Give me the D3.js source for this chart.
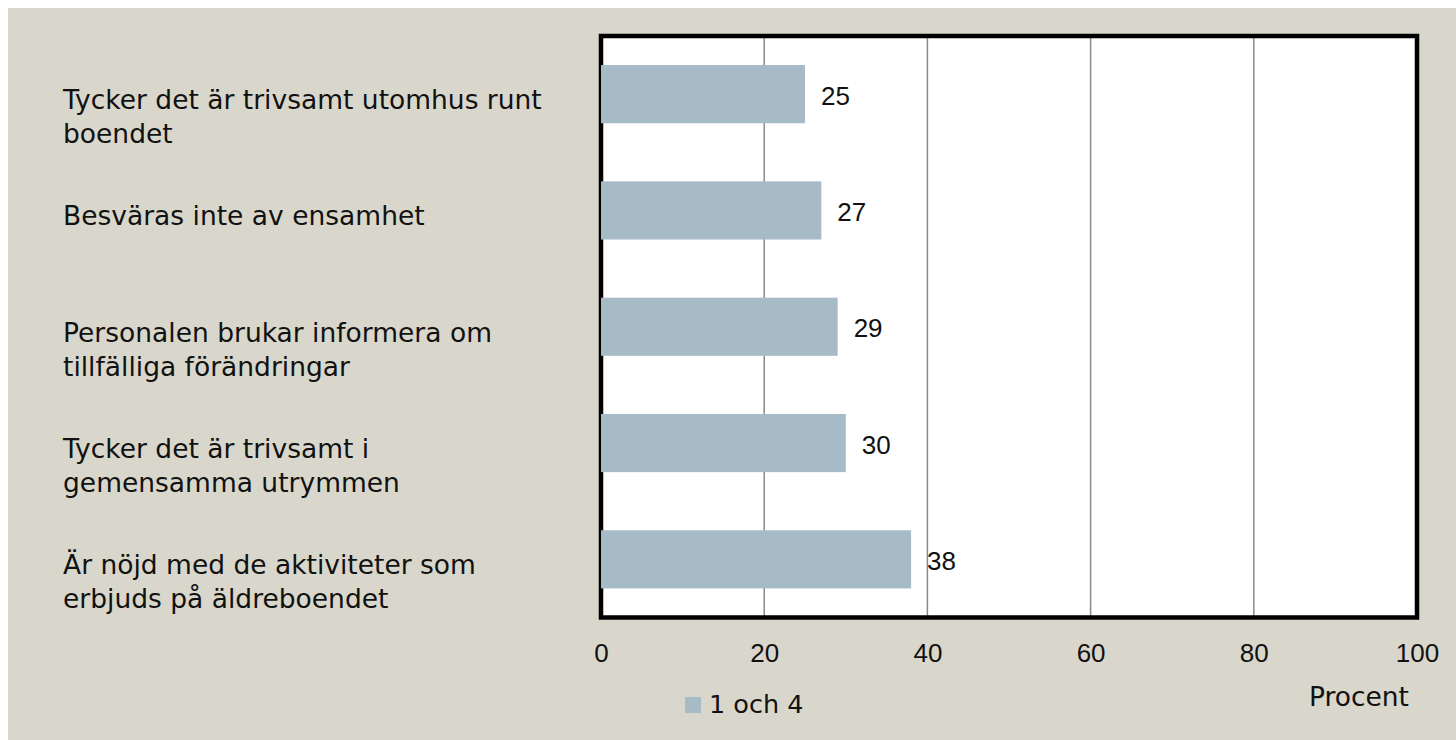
<!DOCTYPE html>
<html>
<head>
<meta charset="utf-8">
<script src="https://cdn.jsdelivr.net/npm/d3@7"></script>
<style>
  html, body { margin: 0; padding: 0; background: #ffffff; }
  svg { display: block; }
  text { fill: #111; }
  .num { font-family: "Liberation Sans", Arial, sans-serif; }
  .word { font-family: "DejaVu Sans", sans-serif; }
</style>
</head>
<body>
<svg id="chart" width="1456" height="740"></svg>
<script>
const categories = [
  "Tycker det är trivsamt utomhus runt\nboendet",
  "Besväras inte av ensamhet",
  "Personalen brukar informera om\ntillfälliga förändringar",
  "Tycker det är trivsamt i\ngemensamma utrymmen",
  "Är nöjd med de aktiviteter som\nerbjuds på äldreboendet"
];
const values = [25, 27, 29, 30, 38];
const tickValues = [0, 20, 40, 60, 80, 100];
const seriesName = "1 och 4";
const axisTitle = "Procent";

const svg = d3.select("#chart");
const W = 1456, H = 740;
const plot = { left: 601, right: 1417, top: 36, bottom: 617.5 };

svg.append("rect").attr("x", 8).attr("y", 8).attr("width", W - 8).attr("height", H - 8)
  .attr("fill", "#d9d7cb");

const x = d3.scaleLinear().domain([0, 100]).range([plot.left, plot.right]);
const y = d3.scaleBand().domain(categories).range([plot.top, plot.bottom])
  .paddingInner(0.5).paddingOuter(0.25);

svg.append("rect").attr("x", plot.left).attr("y", plot.top)
  .attr("width", plot.right - plot.left).attr("height", plot.bottom - plot.top)
  .attr("fill", "#ffffff");

svg.append("g").selectAll("line").data(tickValues.filter(t => t > 0 && t < 100)).join("line")
  .attr("x1", d => x(d)).attr("x2", d => x(d))
  .attr("y1", plot.top).attr("y2", plot.bottom)
  .attr("stroke", "#8a8a8a").attr("stroke-width", 1.5);

svg.append("rect").attr("x", plot.left).attr("y", plot.top)
  .attr("width", plot.right - plot.left).attr("height", plot.bottom - plot.top)
  .attr("fill", "none").attr("stroke", "#000").attr("stroke-width", 4.5);

svg.append("g").selectAll("rect").data(categories).join("rect")
  .attr("x", x(0))
  .attr("y", d => y(d))
  .attr("width", (d, i) => x(values[i]) - x(0))
  .attr("height", y.bandwidth())
  .attr("fill", "#a7bbc6");

svg.append("g").selectAll("text").data(categories).join("text")
  .attr("class", "num")
  .attr("x", (d, i) => x(values[i]) + 16)
  .attr("y", d => y(d) + y.bandwidth() / 2 + 10.5)
  .attr("font-size", 26)
  .text((d, i) => values[i]);

const catG = svg.append("g");
categories.forEach(c => {
  const lines = c.split("\n");
  const t = catG.append("text").attr("class", "word").attr("x", 63)
    .attr("y", y(c) + y.bandwidth() / 2 + 15)
    .attr("font-size", 26.5);
  lines.forEach((ln, i) => {
    t.append("tspan").attr("x", 63).attr("dy", i === 0 ? 0 : 34).text(ln);
  });
});

const xAxis = d3.axisBottom(x).tickValues(tickValues).tickSize(0).tickPadding(26);
const ax = svg.append("g").attr("transform", `translate(0,${plot.bottom})`).call(xAxis);
ax.select(".domain").remove();
ax.selectAll("text").attr("class", "num").attr("font-size", 26)
  .attr("font-family", "Liberation Sans, Arial, sans-serif").attr("fill", "#111");

svg.append("text").attr("class", "word").attr("x", 1409).attr("y", 706).attr("text-anchor", "end")
  .attr("font-size", 26.5).text(axisTitle);

svg.append("rect").attr("x", 685).attr("y", 697).attr("width", 16).attr("height", 16)
  .attr("fill", "#a7bbc6");
svg.append("text").attr("class", "word").attr("x", 709).attr("y", 713).attr("font-size", 25.5).text(seriesName);
</script>
</body>
</html>
